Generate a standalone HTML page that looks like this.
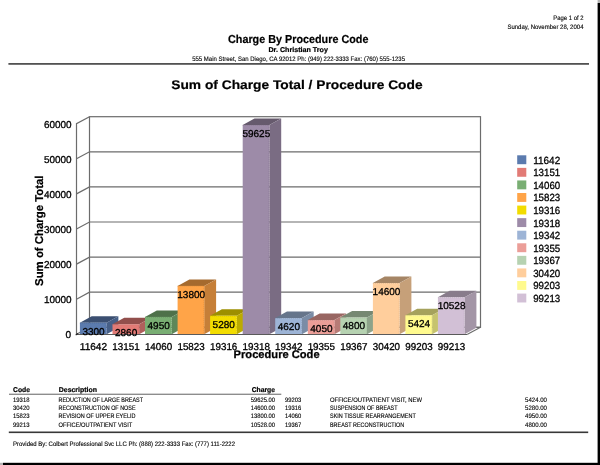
<!DOCTYPE html>
<html lang="en"><head><meta charset="utf-8"><title>Charge By Procedure Code</title>
<style>
html,body{margin:0;padding:0;background:#fff}
body{width:600px;height:465px;position:relative;overflow:hidden;font-family:"Liberation Sans",sans-serif}
.page{position:absolute;left:0;top:0;width:598px;height:463px;background:#fff}
.shr{position:absolute;left:598px;top:3px;width:2px;height:462px;background:#000}
.shb{position:absolute;left:3px;top:463px;width:597px;height:2px;background:#000}
.cr{position:absolute;background:#b4b4b4}
.rule{position:absolute;background:#333}
.sw{position:absolute;left:517.3px;width:9.2px;height:8.6px}
</style></head><body>
<div class="page"></div>
<svg width="600" height="465" viewBox="0 0 600 465" style="position:absolute;left:0;top:0">
<g fill="none" stroke="#6c6c6c" stroke-width="1.2">
<rect x="89.5" y="116.7" width="391.0" height="210.6"/>
<path d="M76.5 334.3L76.5 123.7L89.5 116.7"/>
<path d="M76.5 334.3L89.5 327.3L480.5 327.3"/>
<path d="M76.5 299.2L89.5 292.2L480.5 292.2"/>
<path d="M76.5 264.1L89.5 257.1L480.5 257.1"/>
<path d="M76.5 229.0L89.5 222.0L480.5 222.0"/>
<path d="M76.5 193.9L89.5 186.9L480.5 186.9"/>
<path d="M76.5 158.8L89.5 151.8L480.5 151.8"/>
<path d="M467.5 334.3L480.5 327.3"/>
</g>
<polygon points="79.9,322.7 91.7,316.2 118.4,316.2 106.6,322.7" fill="#3B4F71"/>
<polygon points="106.6,322.7 118.4,316.2 118.4,327.8 106.6,334.3" fill="#465F87"/>
<rect x="79.9" y="322.7" width="26.7" height="11.6" fill="#5B7BAE"/>
<path d="M79.9 323.1H106.2V334.3" fill="none" stroke="#4A648E" stroke-width="0.8" stroke-dasharray="1 1" opacity="0.6"/>
<polygon points="112.5,324.3 124.2,317.8 151.0,317.8 139.2,324.3" fill="#924F4C"/>
<polygon points="139.2,324.3 151.0,317.8 151.0,327.8 139.2,334.3" fill="#B05F5C"/>
<rect x="112.5" y="324.3" width="26.7" height="10.0" fill="#E27B76"/>
<path d="M112.5 324.7H138.8V334.3" fill="none" stroke="#B96460" stroke-width="0.8" stroke-dasharray="1 1" opacity="0.6"/>
<polygon points="145.0,316.9 156.8,310.4 183.5,310.4 171.7,316.9" fill="#4E714A"/>
<polygon points="171.7,316.9 183.5,310.4 183.5,327.8 171.7,334.3" fill="#5E8759"/>
<rect x="145.0" y="316.9" width="26.7" height="17.4" fill="#79AE73"/>
<path d="M145.0 317.3H171.3V334.3" fill="none" stroke="#638E5E" stroke-width="0.8" stroke-dasharray="1 1" opacity="0.6"/>
<polygon points="177.6,285.9 189.4,279.4 216.1,279.4 204.2,285.9" fill="#A56A2E"/>
<polygon points="204.2,285.9 216.1,279.4 216.1,327.8 204.2,334.3" fill="#C67F38"/>
<rect x="177.6" y="285.9" width="26.7" height="48.4" fill="#FFA448"/>
<path d="M177.6 286.3H203.8V334.3" fill="none" stroke="#D1863B" stroke-width="0.8" stroke-dasharray="1 1" opacity="0.6"/>
<polygon points="210.1,315.8 221.9,309.3 248.6,309.3 236.8,315.8" fill="#9D8F00"/>
<polygon points="236.8,315.8 248.6,309.3 248.6,327.8 236.8,334.3" fill="#BCAB00"/>
<rect x="210.1" y="315.8" width="26.7" height="18.5" fill="#F2DC00"/>
<path d="M210.1 316.2H236.4V334.3" fill="none" stroke="#C6B400" stroke-width="0.8" stroke-dasharray="1 1" opacity="0.6"/>
<polygon points="242.7,125.0 254.5,118.5 281.2,118.5 269.4,125.0" fill="#665A6D"/>
<polygon points="269.4,125.0 281.2,118.5 281.2,327.8 269.4,334.3" fill="#7A6C83"/>
<rect x="242.7" y="125.0" width="26.7" height="209.3" fill="#9D8BA8"/>
<path d="M242.7 125.4H269.0V334.3" fill="none" stroke="#807189" stroke-width="0.8" stroke-dasharray="1 1" opacity="0.6"/>
<polygon points="275.2,318.1 287.0,311.6 313.7,311.6 301.9,318.1" fill="#66758B"/>
<polygon points="301.9,318.1 313.7,311.6 313.7,327.8 301.9,334.3" fill="#7A8CA6"/>
<rect x="275.2" y="318.1" width="26.7" height="16.2" fill="#9DB4D6"/>
<path d="M275.2 318.5H301.5V334.3" fill="none" stroke="#8093AF" stroke-width="0.8" stroke-dasharray="1 1" opacity="0.6"/>
<polygon points="307.8,320.1 319.6,313.6 346.2,313.6 334.4,320.1" fill="#986662"/>
<polygon points="334.4,320.1 346.2,313.6 346.2,327.8 334.4,334.3" fill="#B77B76"/>
<rect x="307.8" y="320.1" width="26.7" height="14.2" fill="#EB9E98"/>
<path d="M307.8 320.5H334.1V334.3" fill="none" stroke="#C0817C" stroke-width="0.8" stroke-dasharray="1 1" opacity="0.6"/>
<polygon points="340.3,317.5 352.1,311.0 378.8,311.0 367.0,317.5" fill="#768873"/>
<polygon points="367.0,317.5 378.8,311.0 378.8,327.8 367.0,334.3" fill="#8DA38A"/>
<rect x="340.3" y="317.5" width="26.7" height="16.8" fill="#B6D2B1"/>
<path d="M340.3 317.9H366.6V334.3" fill="none" stroke="#95AC91" stroke-width="0.8" stroke-dasharray="1 1" opacity="0.6"/>
<polygon points="372.9,283.1 384.7,276.6 411.4,276.6 399.6,283.1" fill="#A58565"/>
<polygon points="399.6,283.1 411.4,276.6 411.4,327.8 399.6,334.3" fill="#C6A079"/>
<rect x="372.9" y="283.1" width="26.7" height="51.2" fill="#FFCE9C"/>
<path d="M372.9 283.5H399.2V334.3" fill="none" stroke="#D1A87F" stroke-width="0.8" stroke-dasharray="1 1" opacity="0.6"/>
<polygon points="405.4,315.3 417.2,308.8 443.9,308.8 432.1,315.3" fill="#A5A25C"/>
<polygon points="432.1,315.3 443.9,308.8 443.9,327.8 432.1,334.3" fill="#C6C36E"/>
<rect x="405.4" y="315.3" width="26.7" height="19.0" fill="#FFFA8E"/>
<path d="M405.4 315.7H431.7V334.3" fill="none" stroke="#D1CD74" stroke-width="0.8" stroke-dasharray="1 1" opacity="0.6"/>
<polygon points="437.9,297.3 449.7,290.8 476.4,290.8 464.6,297.3" fill="#887C8B"/>
<polygon points="464.6,297.3 476.4,290.8 476.4,327.8 464.6,334.3" fill="#A395A6"/>
<rect x="437.9" y="297.3" width="26.7" height="37.0" fill="#D2C0D6"/>
<path d="M437.9 297.7H464.2V334.3" fill="none" stroke="#AC9DAF" stroke-width="0.8" stroke-dasharray="1 1" opacity="0.6"/>
<path d="M76.0 334.5H467.5" fill="none" stroke="#5a5a5a" stroke-width="1.1"/>
<path d="M75.7 334.9l2.2 -1.4" fill="none" stroke="#222" stroke-width="1.2"/>
<rect x="597.6" y="0" width="2.4" height="3" fill="#b4b4b4"/><rect x="0" y="462.8" width="3" height="2.2" fill="#b4b4b4"/>
<rect x="597.6" y="3" width="2.4" height="462" fill="#000"/><rect x="3" y="462.8" width="597" height="2.2" fill="#000"/>
<rect x="517.2" y="155.30" width="9.1" height="8.9" fill="#5B7BAE"/><rect x="517.2" y="167.87" width="9.1" height="8.9" fill="#E27B76"/><rect x="517.2" y="180.44" width="9.1" height="8.9" fill="#79AE73"/><rect x="517.2" y="193.01" width="9.1" height="8.9" fill="#FFA448"/><rect x="517.2" y="205.58" width="9.1" height="8.9" fill="#F2DC00"/><rect x="517.2" y="218.15" width="9.1" height="8.9" fill="#9D8BA8"/><rect x="517.2" y="230.72" width="9.1" height="8.9" fill="#9DB4D6"/><rect x="517.2" y="243.29" width="9.1" height="8.9" fill="#EB9E98"/><rect x="517.2" y="255.86" width="9.1" height="8.9" fill="#B6D2B1"/><rect x="517.2" y="268.43" width="9.1" height="8.9" fill="#FFCE9C"/><rect x="517.2" y="281.00" width="9.1" height="8.9" fill="#FFFA8E"/><rect x="517.2" y="293.57" width="9.1" height="8.9" fill="#D2C0D6"/>
<rect x="8.4" y="63.05" width="580.6" height="1.7" fill="#4a4a4a"/><rect x="9" y="393.75" width="272.3" height="0.9" fill="#505050"/><rect x="8.8" y="431.5" width="579.4" height="1.6" fill="#383838"/>
</svg>
<svg width="600" height="465" viewBox="0 0 600 465" style="position:absolute;left:0;top:0;text-rendering:geometricPrecision" font-family="'Liberation Sans', sans-serif" fill="#000">
<text x="553.30" y="20.00" font-size="6.5" textLength="30.20" lengthAdjust="spacingAndGlyphs" stroke="#000" stroke-width="0.12">Page 1 of 2</text>
<text x="507.40" y="28.80" font-size="6.5" textLength="76.10" lengthAdjust="spacingAndGlyphs" stroke="#000" stroke-width="0.12">Sunday, November 28, 2004</text>
<text x="228.00" y="43.00" font-size="11.5" textLength="140.40" lengthAdjust="spacingAndGlyphs" font-weight="bold" stroke="#000" stroke-width="0.2">Charge By Procedure Code</text>
<text x="268.45" y="51.80" font-size="7" textLength="59.50" lengthAdjust="spacingAndGlyphs" font-weight="bold" stroke="#000" stroke-width="0.2">Dr. Christian Troy</text>
<text x="192.20" y="61.20" font-size="6.5" textLength="212.80" lengthAdjust="spacingAndGlyphs" stroke="#000" stroke-width="0.12">555 Main Street, San Diego, CA 92012 Ph: (949) 222-3333 Fax: (760) 555-1235</text>
<text x="171.25" y="88.70" font-size="12.5" textLength="251.30" lengthAdjust="spacingAndGlyphs" font-weight="bold" stroke="#000" stroke-width="0.2">Sum of Charge Total / Procedure Code</text>
<text x="65.40" y="338.40" font-size="10" textLength="5.60" lengthAdjust="spacingAndGlyphs" stroke="#000" stroke-width="0.3">0</text>
<text x="43.90" y="303.30" font-size="10" textLength="27.70" lengthAdjust="spacingAndGlyphs" stroke="#000" stroke-width="0.3">10000</text>
<text x="43.90" y="268.20" font-size="10" textLength="27.70" lengthAdjust="spacingAndGlyphs" stroke="#000" stroke-width="0.3">20000</text>
<text x="43.90" y="233.10" font-size="10" textLength="27.70" lengthAdjust="spacingAndGlyphs" stroke="#000" stroke-width="0.3">30000</text>
<text x="43.90" y="198.00" font-size="10" textLength="27.70" lengthAdjust="spacingAndGlyphs" stroke="#000" stroke-width="0.3">40000</text>
<text x="43.90" y="162.90" font-size="10" textLength="27.70" lengthAdjust="spacingAndGlyphs" stroke="#000" stroke-width="0.3">50000</text>
<text x="43.90" y="127.80" font-size="10" textLength="27.70" lengthAdjust="spacingAndGlyphs" stroke="#000" stroke-width="0.3">60000</text>
<text x="79.80" y="349.50" font-size="10" textLength="27.30" lengthAdjust="spacingAndGlyphs" stroke="#000" stroke-width="0.3">11642</text>
<text x="82.40" y="334.72" font-size="10" textLength="22.30" lengthAdjust="spacingAndGlyphs" stroke="#000" stroke-width="0.3">3300</text>
<text x="112.35" y="349.50" font-size="10" textLength="27.30" lengthAdjust="spacingAndGlyphs" stroke="#000" stroke-width="0.3">13151</text>
<text x="114.95" y="336.26" font-size="10" textLength="22.30" lengthAdjust="spacingAndGlyphs" stroke="#000" stroke-width="0.3">2860</text>
<text x="144.90" y="349.50" font-size="10" textLength="27.30" lengthAdjust="spacingAndGlyphs" stroke="#000" stroke-width="0.3">14060</text>
<text x="147.50" y="328.93" font-size="10" textLength="22.30" lengthAdjust="spacingAndGlyphs" stroke="#000" stroke-width="0.3">4950</text>
<text x="177.45" y="349.50" font-size="10" textLength="27.30" lengthAdjust="spacingAndGlyphs" stroke="#000" stroke-width="0.3">15823</text>
<text x="177.30" y="297.86" font-size="10" textLength="27.80" lengthAdjust="spacingAndGlyphs" stroke="#000" stroke-width="0.3">13800</text>
<text x="210.00" y="349.50" font-size="10" textLength="27.30" lengthAdjust="spacingAndGlyphs" stroke="#000" stroke-width="0.3">19316</text>
<text x="212.60" y="327.77" font-size="10" textLength="22.30" lengthAdjust="spacingAndGlyphs" stroke="#000" stroke-width="0.3">5280</text>
<text x="242.55" y="349.50" font-size="10" textLength="27.30" lengthAdjust="spacingAndGlyphs" stroke="#000" stroke-width="0.3">19318</text>
<text x="242.40" y="137.02" font-size="10" textLength="27.80" lengthAdjust="spacingAndGlyphs" stroke="#000" stroke-width="0.3">59625</text>
<text x="275.10" y="349.50" font-size="10" textLength="27.30" lengthAdjust="spacingAndGlyphs" stroke="#000" stroke-width="0.3">19342</text>
<text x="277.70" y="330.08" font-size="10" textLength="22.30" lengthAdjust="spacingAndGlyphs" stroke="#000" stroke-width="0.3">4620</text>
<text x="307.65" y="349.50" font-size="10" textLength="27.30" lengthAdjust="spacingAndGlyphs" stroke="#000" stroke-width="0.3">19355</text>
<text x="310.25" y="332.08" font-size="10" textLength="22.30" lengthAdjust="spacingAndGlyphs" stroke="#000" stroke-width="0.3">4050</text>
<text x="340.20" y="349.50" font-size="10" textLength="27.30" lengthAdjust="spacingAndGlyphs" stroke="#000" stroke-width="0.3">19367</text>
<text x="342.80" y="329.45" font-size="10" textLength="22.30" lengthAdjust="spacingAndGlyphs" stroke="#000" stroke-width="0.3">4800</text>
<text x="372.75" y="349.50" font-size="10" textLength="27.30" lengthAdjust="spacingAndGlyphs" stroke="#000" stroke-width="0.3">30420</text>
<text x="372.60" y="295.05" font-size="10" textLength="27.80" lengthAdjust="spacingAndGlyphs" stroke="#000" stroke-width="0.3">14600</text>
<text x="405.30" y="349.50" font-size="10" textLength="27.30" lengthAdjust="spacingAndGlyphs" stroke="#000" stroke-width="0.3">99203</text>
<text x="407.90" y="327.26" font-size="10" textLength="22.30" lengthAdjust="spacingAndGlyphs" stroke="#000" stroke-width="0.3">5424</text>
<text x="437.85" y="349.50" font-size="10" textLength="27.30" lengthAdjust="spacingAndGlyphs" stroke="#000" stroke-width="0.3">99213</text>
<text x="437.70" y="309.35" font-size="10" textLength="27.80" lengthAdjust="spacingAndGlyphs" stroke="#000" stroke-width="0.3">10528</text>
<text x="233.60" y="357.80" font-size="11" textLength="86.00" lengthAdjust="spacingAndGlyphs" font-weight="bold" stroke="#000" stroke-width="0.25">Procedure Code</text>
<text x="-55.25" y="0" font-size="11.4" textLength="110.50" lengthAdjust="spacingAndGlyphs" font-weight="bold" stroke="#000" stroke-width="0.2" transform="translate(43.10 230.70) rotate(-90)">Sum of Charge Total</text>
<text x="533.20" y="163.70" font-size="10.4" textLength="27.00" lengthAdjust="spacingAndGlyphs" stroke="#000" stroke-width="0.3">11642</text>
<text x="533.20" y="176.27" font-size="10.4" textLength="27.00" lengthAdjust="spacingAndGlyphs" stroke="#000" stroke-width="0.3">13151</text>
<text x="533.20" y="188.84" font-size="10.4" textLength="27.00" lengthAdjust="spacingAndGlyphs" stroke="#000" stroke-width="0.3">14060</text>
<text x="533.20" y="201.41" font-size="10.4" textLength="27.00" lengthAdjust="spacingAndGlyphs" stroke="#000" stroke-width="0.3">15823</text>
<text x="533.20" y="213.98" font-size="10.4" textLength="27.00" lengthAdjust="spacingAndGlyphs" stroke="#000" stroke-width="0.3">19316</text>
<text x="533.20" y="226.55" font-size="10.4" textLength="27.00" lengthAdjust="spacingAndGlyphs" stroke="#000" stroke-width="0.3">19318</text>
<text x="533.20" y="239.12" font-size="10.4" textLength="27.00" lengthAdjust="spacingAndGlyphs" stroke="#000" stroke-width="0.3">19342</text>
<text x="533.20" y="251.69" font-size="10.4" textLength="27.00" lengthAdjust="spacingAndGlyphs" stroke="#000" stroke-width="0.3">19355</text>
<text x="533.20" y="264.26" font-size="10.4" textLength="27.00" lengthAdjust="spacingAndGlyphs" stroke="#000" stroke-width="0.3">19367</text>
<text x="533.20" y="276.83" font-size="10.4" textLength="27.00" lengthAdjust="spacingAndGlyphs" stroke="#000" stroke-width="0.3">30420</text>
<text x="533.20" y="289.40" font-size="10.4" textLength="27.00" lengthAdjust="spacingAndGlyphs" stroke="#000" stroke-width="0.3">99203</text>
<text x="533.20" y="301.97" font-size="10.4" textLength="27.00" lengthAdjust="spacingAndGlyphs" stroke="#000" stroke-width="0.3">99213</text>
<text x="13.00" y="391.50" font-size="7" textLength="17.00" lengthAdjust="spacingAndGlyphs" font-weight="bold" stroke="#000" stroke-width="0.2">Code</text>
<text x="58.75" y="391.50" font-size="7" textLength="38.25" lengthAdjust="spacingAndGlyphs" font-weight="bold" stroke="#000" stroke-width="0.2">Description</text>
<text x="251.75" y="391.50" font-size="7" textLength="23.25" lengthAdjust="spacingAndGlyphs" font-weight="bold" stroke="#000" stroke-width="0.2">Charge</text>
<text x="13.00" y="401.75" font-size="6.5" textLength="16.50" lengthAdjust="spacingAndGlyphs" stroke="#000" stroke-width="0.12">19318</text>
<text x="58.50" y="401.75" font-size="6.5" textLength="84.50" lengthAdjust="spacingAndGlyphs" stroke="#000" stroke-width="0.12">REDUCTION OF LARGE BREAST</text>
<text x="250.75" y="401.75" font-size="6.5" textLength="24.25" lengthAdjust="spacingAndGlyphs" stroke="#000" stroke-width="0.12">59625.00</text>
<text x="285.00" y="401.75" font-size="6.5" textLength="16.25" lengthAdjust="spacingAndGlyphs" stroke="#000" stroke-width="0.12">99203</text>
<text x="330.00" y="401.75" font-size="6.5" textLength="92.00" lengthAdjust="spacingAndGlyphs" stroke="#000" stroke-width="0.12">OFFICE/OUTPATIENT VISIT, NEW</text>
<text x="525.00" y="401.75" font-size="6.5" textLength="22.00" lengthAdjust="spacingAndGlyphs" stroke="#000" stroke-width="0.12">5424.00</text>
<text x="13.00" y="410.08" font-size="6.5" textLength="16.50" lengthAdjust="spacingAndGlyphs" stroke="#000" stroke-width="0.12">30420</text>
<text x="58.50" y="410.08" font-size="6.5" textLength="77.00" lengthAdjust="spacingAndGlyphs" stroke="#000" stroke-width="0.12">RECONSTRUCTION OF NOSE</text>
<text x="250.75" y="410.08" font-size="6.5" textLength="24.25" lengthAdjust="spacingAndGlyphs" stroke="#000" stroke-width="0.12">14600.00</text>
<text x="285.00" y="410.08" font-size="6.5" textLength="16.25" lengthAdjust="spacingAndGlyphs" stroke="#000" stroke-width="0.12">19316</text>
<text x="330.00" y="410.08" font-size="6.5" textLength="67.50" lengthAdjust="spacingAndGlyphs" stroke="#000" stroke-width="0.12">SUSPENSION OF BREAST</text>
<text x="525.00" y="410.08" font-size="6.5" textLength="22.00" lengthAdjust="spacingAndGlyphs" stroke="#000" stroke-width="0.12">5280.00</text>
<text x="13.00" y="418.41" font-size="6.5" textLength="16.50" lengthAdjust="spacingAndGlyphs" stroke="#000" stroke-width="0.12">15823</text>
<text x="58.50" y="418.41" font-size="6.5" textLength="77.00" lengthAdjust="spacingAndGlyphs" stroke="#000" stroke-width="0.12">REVISION OF UPPER EYELID</text>
<text x="250.75" y="418.41" font-size="6.5" textLength="24.25" lengthAdjust="spacingAndGlyphs" stroke="#000" stroke-width="0.12">13800.00</text>
<text x="285.00" y="418.41" font-size="6.5" textLength="16.25" lengthAdjust="spacingAndGlyphs" stroke="#000" stroke-width="0.12">14060</text>
<text x="330.00" y="418.41" font-size="6.5" textLength="85.75" lengthAdjust="spacingAndGlyphs" stroke="#000" stroke-width="0.12">SKIN TISSUE REARRANGEMENT</text>
<text x="525.00" y="418.41" font-size="6.5" textLength="22.00" lengthAdjust="spacingAndGlyphs" stroke="#000" stroke-width="0.12">4950.00</text>
<text x="13.00" y="426.74" font-size="6.5" textLength="16.50" lengthAdjust="spacingAndGlyphs" stroke="#000" stroke-width="0.12">99213</text>
<text x="58.50" y="426.74" font-size="6.5" textLength="73.75" lengthAdjust="spacingAndGlyphs" stroke="#000" stroke-width="0.12">OFFICE/OUTPATIENT VISIT</text>
<text x="250.75" y="426.74" font-size="6.5" textLength="24.25" lengthAdjust="spacingAndGlyphs" stroke="#000" stroke-width="0.12">10528.00</text>
<text x="285.00" y="426.74" font-size="6.5" textLength="16.25" lengthAdjust="spacingAndGlyphs" stroke="#000" stroke-width="0.12">19367</text>
<text x="330.00" y="426.74" font-size="6.5" textLength="74.25" lengthAdjust="spacingAndGlyphs" stroke="#000" stroke-width="0.12">BREAST RECONSTRUCTION</text>
<text x="525.00" y="426.74" font-size="6.5" textLength="22.00" lengthAdjust="spacingAndGlyphs" stroke="#000" stroke-width="0.12">4800.00</text>
<text x="13.00" y="445.70" font-size="6.5" textLength="222.00" lengthAdjust="spacingAndGlyphs" stroke="#000" stroke-width="0.12">Provided By: Colbert Professional Svc LLC Ph: (888) 222-3333 Fax: (777) 111-2222</text>
</svg>
</body></html>
